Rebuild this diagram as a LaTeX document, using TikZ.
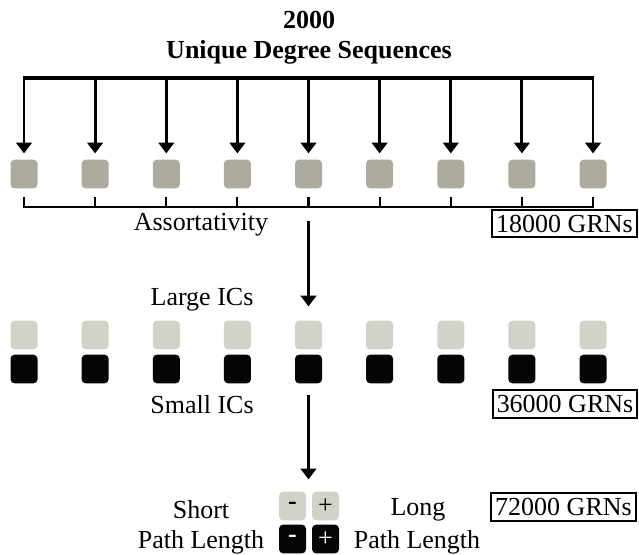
\documentclass[tikz,border=0pt]{standalone}
\usepackage{fontspec}
\setmainfont{Liberation Serif}
\usepackage{xcolor}
\usepackage{tikz}
\usetikzlibrary{arrows.meta, positioning}
\definecolor{seqgray}{HTML}{ADAA9E}
\definecolor{icslight}{HTML}{D3D2C8}
\definecolor{icsdark}{HTML}{050505}

\begin{document}
\begin{tikzpicture}[
    x=0.75pt, y=-0.75pt,
    sq/.style={rectangle, rounded corners=3pt, minimum width=20.25pt, minimum height=21.5pt, inner sep=0pt, draw=none, font=\fontsize{19.5}{23}\selectfont},
    seq/.style={sq, fill=seqgray},
    lic/.style={sq, fill=icslight, text=black},
    sic/.style={sq, fill=icsdark, text=white},
    lbl/.style={font=\fontsize{19.5}{23}\selectfont, inner sep=0pt},
    ttl/.style={font=\fontsize{19.5}{23}\selectfont\bfseries, inner sep=0pt},
    count/.style={rectangle, draw=black, line width=1.5pt, minimum width=108.5pt, minimum height=20.5pt, inner sep=0pt, font=\fontsize{19.5}{23}\selectfont},
    arr/.style={-{Triangle[width=11.5pt, length=8pt]}, line width=2.2pt, color=black},
    bar/.style={-, line width=2.3pt, color=black},
    brk/.style={-, line width=1.6pt, color=black}
]
    \useasboundingbox (0,0) rectangle (639,554);

    % title
    \node[ttl] (num) at (309, 20) {2000};
    \node[ttl] (title) at (309, 52) {Unique Degree Sequences};

    % degree sequences
    \node[seq] (sq1) at (24, 174) {};
    \node[seq] (sq2) at (95.1, 174) {};
    \node[seq] (sq3) at (166.3, 174) {};
    \node[seq] (sq4) at (237.4, 174) {};
    \node[seq] (sq5) at (308.5, 174) {};
    \node[seq] (sq6) at (379.6, 174) {};
    \node[seq] (sq7) at (450.8, 174) {};
    \node[seq] (sq8) at (521.9, 174) {};
    \node[seq] (sq9) at (593, 174) {};

    \coordinate (top1) at (24, 78);
    \coordinate (top9) at (593, 78);
    \draw[bar] ([xshift=-1.1pt]top1) -- ([xshift=1.1pt]top9);
    \draw[arr, shorten >=4.5pt] (top1) -- (sq1.north);
    \draw[arr, shorten >=4.5pt] (sq2 |- top1) -- (sq2.north);
    \draw[arr, shorten >=4.5pt] (sq3 |- top1) -- (sq3.north);
    \draw[arr, shorten >=4.5pt] (sq4 |- top1) -- (sq4.north);
    \draw[arr, shorten >=4.5pt] (sq5 |- top1) -- (sq5.north);
    \draw[arr, shorten >=4.5pt] (sq6 |- top1) -- (sq6.north);
    \draw[arr, shorten >=4.5pt] (sq7 |- top1) -- (sq7.north);
    \draw[arr, shorten >=4.5pt] (sq8 |- top1) -- (sq8.north);
    \draw[arr, shorten >=4.5pt] (top9) -- (sq9.north);

    % assortativity bracket
    \coordinate (tk1) at (24, 207);
    \coordinate (tk9) at (593, 207);
    \draw[brk] ([xshift=-0.8pt]tk1) -- ([xshift=0.8pt]tk9);
    \draw[brk] ([yshift=-6pt]sq1.south) -- (tk1);
    \draw[brk] ([yshift=-6pt]sq2.south) -- (sq2 |- tk1);
    \draw[brk] ([yshift=-6pt]sq3.south) -- (sq3 |- tk1);
    \draw[brk] ([yshift=-6pt]sq4.south) -- (sq4 |- tk1);
    \draw[brk] ([yshift=-6pt]sq5.south) -- (sq5 |- tk1);
    \draw[brk] ([yshift=-6pt]sq6.south) -- (sq6 |- tk1);
    \draw[brk] ([yshift=-6pt]sq7.south) -- (sq7 |- tk1);
    \draw[brk] ([yshift=-6pt]sq8.south) -- (sq8 |- tk1);
    \draw[brk] ([yshift=-6pt]sq9.south) -- (tk9);

    \node[lbl] (assort) at (201, 225) {Assortativity};
    \node[count] (grn1) at (564.5, 223.5) {18000 GRNs};

    % initial conditions
    \node[lic] (lt1) at (24, 335) {};
    \node[lic] (lt2) at (95.1, 335) {};
    \node[lic] (lt3) at (166.3, 335) {};
    \node[lic] (lt4) at (237.4, 335) {};
    \node[lic] (lt5) at (308.5, 335) {};
    \node[lic] (lt6) at (379.6, 335) {};
    \node[lic] (lt7) at (450.8, 335) {};
    \node[lic] (lt8) at (521.9, 335) {};
    \node[lic] (lt9) at (593, 335) {};

    \node[sic] (dk1) at (24, 369) {};
    \node[sic] (dk2) at (95.1, 369) {};
    \node[sic] (dk3) at (166.3, 369) {};
    \node[sic] (dk4) at (237.4, 369) {};
    \node[sic] (dk5) at (308.5, 369) {};
    \node[sic] (dk6) at (379.6, 369) {};
    \node[sic] (dk7) at (450.8, 369) {};
    \node[sic] (dk8) at (521.9, 369) {};
    \node[sic] (dk9) at (593, 369) {};

    \coordinate (from1) at (308.5, 221);
    \draw[arr, shorten >=10.5pt] (from1) -- (lt5.north);

    \node[lbl] (large) at (202, 300) {Large ICs};
    \node[lbl] (small) at (202, 405) {Small ICs};
    \node[count] (grn2) at (565, 404) {36000 GRNs};

    % path length
    \coordinate (from2) at (308.5, 395);
    \node[lic] (lminus) at (292.5, 506) {\textbf{-}};
    \node[lic] (lplus) at (325.5, 506) {+};
    \node[sic] (dminus) at (292.5, 539) {\textbf{-}};
    \node[sic] (dplus) at (325.5, 539) {+};
    \draw[arr, shorten >=9pt] (from2) -- (from2 |- lminus.north);

    \node[lbl] (short) at (201, 510) {Short};
    \node[lbl] (shortpl) at (201, 542) {Path Length};
    \node[lbl] (long) at (418, 510) {Long};
    \node[lbl] (longpl) at (417, 542) {Path Length};
    \node[count] (grn3) at (563.5, 507) {72000 GRNs};
\end{tikzpicture}
\end{document}
